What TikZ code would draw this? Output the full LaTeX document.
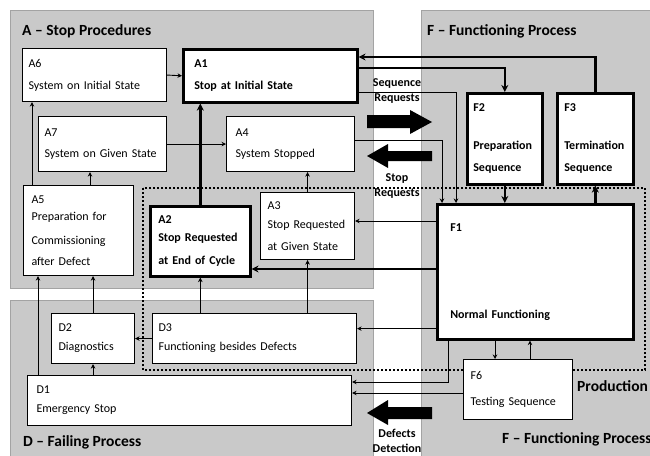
\documentclass[tikz,border=0pt]{standalone}
\usepackage{fontspec}
\setmainfont{Carlito}
\usepackage{tikz}
\usetikzlibrary{arrows.meta,positioning,calc}

\definecolor{zonefill}{HTML}{C9C9C9}
\definecolor{zoneline}{HTML}{A3A3A3}

\begin{document}
\begin{tikzpicture}[x=1pt, y=-1pt,
    zone/.style={fill=zonefill, draw=zoneline, line width=1pt},
    title/.style={anchor=base west, inner sep=0pt, font=\fontsize{15.5}{18}\selectfont\bfseries},
    state/.style={draw, fill=white, line width=1.1pt, anchor=north west, align=left,
      inner sep=0pt, font=\fontsize{12}{14}\selectfont},
    key/.style={state, line width=2.6pt, font=\fontsize{12}{14}\selectfont\bfseries},
    flow/.style={align=center, inner sep=0pt, font=\fontsize{12}{15}\selectfont\bfseries},
    tr/.style={line width=0.9pt, -{Stealth[length=4.5pt,width=4.5pt]}},
    ktr/.style={line width=2.4pt, -{Stealth[length=7pt,width=7pt]}},
    prod/.style={line width=2pt, dash pattern=on 2pt off 2pt}]
    \useasboundingbox (0,0) rectangle (650,455);
    \clip (0,0) rectangle (650,455);

    % zones A, D, F
    \draw[zone] (10,10) rectangle (373,288);
    \draw[zone] (10,300) rectangle (373,470);
    \draw[zone] (421,10) rectangle (670,470);
    \draw[prod] (143,188) rectangle (645,370);

    \node[title] (tA) at (22,35) {A -- Stop Procedures};
    \node[title] (tF) at (427,35) {F -- Functioning Process};
    \node[title] (tD) at (23,446) {D -- Failing Process};
    \node[title] (tP) at (577,391) {Production};
    \node[title] (tFb) at (502,443) {F -- Functioning Process};

    % requests between the zones
    \fill (367,115) -- (410,115) -- (410,110) -- (432,122) -- (410,134) -- (410,128) -- (367,128) -- cycle;
    \fill (367,156) -- (388,144) -- (388,151) -- (432,151) -- (432,161) -- (388,161) -- (388,168) -- cycle;
    \fill (367,413) -- (388,400) -- (388,407) -- (432,407) -- (432,419) -- (388,419) -- (388,425) -- cycle;
    \node[flow] (seq) at (397,91) {Sequence\\Requests};
    \node[flow] (stp) at (397,186) {Stop\\Requests};
    \node[flow] (dfc) at (397,441) {Defects\\Detection};

    % A: stop procedures
    \node[state, minimum width=144pt, minimum height=53pt, text width=132pt] (A6) at (22,48) {A6\\[8pt]System on Initial State};
    \node[key, minimum width=174pt, minimum height=53pt, text width=152pt] (A1) at (182,48) {A1\\[8pt]Stop at Initial State};
    \node[state, minimum width=128pt, minimum height=55pt, text width=116pt] (A7) at (38,116) {A7\\[7pt]System on Given State};
    \node[state, minimum width=128pt, minimum height=55pt, text width=110pt] (A4) at (226,116) {A4\\[7pt]System Stopped};
    \node[state, minimum width=110pt, minimum height=90pt, text width=94pt] (A5) at (23,185) {A5\\[3pt]Preparation for\\[10pt]Commissioning\\[7pt]after Defect};
    \node[key, minimum width=100pt, minimum height=70pt, text width=84pt] (A2) at (149,205) {A2\\[4pt]Stop Requested\\[9pt]at End of Cycle};
    \node[state, minimum width=94pt, minimum height=67pt, text width=80pt] (A3) at (260,192) {A3\\[5pt]Stop Requested\\[8pt]at Given State};

    % D: failing process
    \node[state, minimum width=83pt, minimum height=50pt, text width=69pt] (D2) at (51,313) {D2\\[5pt]Diagnostics};
    \node[state, minimum width=204pt, minimum height=50pt, text width=192pt] (D3) at (152,313) {D3\\[5pt]Functioning besides Defects};
    \node[state, minimum width=324pt, minimum height=50pt, text width=306pt] (D1) at (27,375) {D1\\[5pt]Emergency Stop};

    % F: functioning process
    \node[key, minimum width=75pt, minimum height=91pt, text width=63pt] (F2) at (466,92) {F2\\[24pt]Preparation\\[8pt]Sequence};
    \node[key, minimum width=76pt, minimum height=91pt, text width=62pt] (F3) at (556,92) {F3\\[24pt]Termination\\[8pt]Sequence};
    \node[key, minimum width=196pt, minimum height=135pt, text width=170pt] (F1) at (436,203) {F1\\[73pt]Normal Functioning};
    \node[state, minimum width=109pt, minimum height=60pt, text width=95pt] (F6) at (463,359) {F6\\[12pt]Testing Sequence};

    % transitions inside A
    \draw[tr] (A6.east) -- (A1.west);
    \draw[tr] (A7.east) -- (A4.west);
    \draw[tr] ([xshift=9pt]A5.north west) coordinate (a5l) -- (a5l |- A6.south);
    \draw[tr] ([xshift=67pt]A5.north west) coordinate (a5r) -- (a5r |- A7.south);
    \draw[ktr] (A2.north) -- (A2.north |- A1.south);
    \draw[tr] (A3.north) -- (A3.north |- A4.south);

    % A <-> F
    \draw[ktr] (F3.north) |- ([yshift=-9pt]A1.north east);
    \draw[ktr] ([yshift=-20pt]A1.north east) -| (F2.north);
    \draw[tr] ([yshift=11pt]A1.south east) -| ([xshift=20pt]F1.north west);
    \draw[tr] ([yshift=-24pt]A4.north east) -| ([xshift=6pt]F1.north west);
    \draw[ktr] (F2.south) -- (F2.south |- F1.north);
    \draw[ktr] (F3.south |- F1.north) -- (F3.south);
    \draw[tr] ([yshift=-18pt]F1.north west) coordinate (f1a) -- (f1a -| A3.east);
    \draw[ktr] ([yshift=-66pt]F1.north west) coordinate (f1b) -- (f1b -| A2.east);

    % D -> A, F -> D
    \draw[tr] ([xshift=11pt]D1.north west) coordinate (d1a) -- (d1a |- A5.south);
    \draw[tr] (D2.north) -- (D2.north |- A5.south);
    \draw[tr] (D2.south |- D1.north) -- (D2.south);
    \draw[tr] (D3.west) -- (D2.east);
    \draw[tr] (A2.south |- D3.north) -- (A2.south);
    \draw[tr] (A3.south |- D3.north) -- (A3.south);
    \draw[tr] ([yshift=12pt]F1.south west) coordinate (f1c) -- (f1c -| D3.east);
    \draw[tr] ([xshift=12pt]F1.south west) |- ([yshift=-7pt]D1.north east);
    \draw[tr] ([yshift=-34pt]F6.north west) coordinate (f6a) -- (f6a -| D1.east);

    % F1 <-> F6
    \path ([xshift=32pt]F6.north west) coordinate (f6b) ([xshift=67pt]F6.north west) coordinate (f6c);
    \draw[tr] (f6b |- F1.south) -- (f6b);
    \draw[tr] (f6c) -- (f6c |- F1.south);
\end{tikzpicture}
\end{document}
